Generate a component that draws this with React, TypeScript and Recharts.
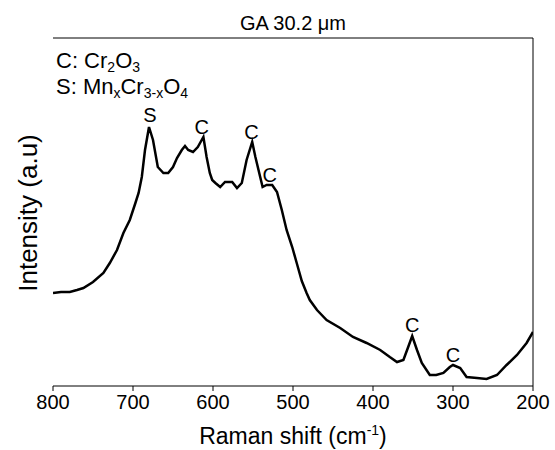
import { LineChart, Line, XAxis, YAxis, ReferenceLine, ReferenceDot } from "recharts";

// Raman shift (cm-1) and intensity (arbitrary units)
const shift = [
  800, 790, 779, 770, 762, 750, 737, 729, 720, 712, 704, 697, 693, 689, 685, 680, 675, 669, 662, 656,
  650, 645, 639, 635, 631, 625, 619, 612, 608, 604, 601, 597, 591, 585, 576, 570, 564, 558, 551, 547,
  541, 538, 533, 526, 520, 514, 508, 501, 495, 489, 483, 479, 470, 458, 441, 425, 408, 391, 379, 370,
  362, 356, 351, 345, 339, 329, 321, 312, 304, 300, 291, 283, 270, 258, 245, 233, 220, 208, 200,
];
const intensity = [
  93, 94, 94, 96, 98, 104, 113, 123, 136, 153, 166, 183, 193, 209, 236, 259, 246, 219, 213, 213,
  219, 228, 236, 240, 236, 234, 239, 249, 229, 213, 206, 203, 199, 204, 204, 198, 203, 226, 244, 229,
  209, 199, 201, 201, 194, 176, 156, 139, 122, 105, 93, 86, 76, 66, 58, 49, 43, 36, 29, 24,
  26, 39, 50, 36, 23, 11, 11, 13, 19, 21, 18, 9, 8, 7, 11, 21, 31, 43, 54,
];
const xTicks = [800, 700, 600, 500, 400, 300, 200];

// peak assignments: label, position (cm-1), label height (a.u.)
const peakLabels = ["S", "C", "C", "C", "C", "C"];
const peakShift = [679, 614, 552, 529, 351, 300];
const peakHeight = [271, 259, 254, 211, 61, 31];

const data = shift.map((s, i) => ({ shift: s, intensity: intensity[i] }));
const font = "'Liberation Sans', Arial, sans-serif";

export default function App() {
  return (
    <div style={{ position: "absolute", left: 0, top: 0 }}>
      <LineChart
        width={555}
        height={450}
        data={data}
        margin={{ top: 38, right: 22, left: 53, bottom: 34 }}
        style={{ fontFamily: font }}
      >
        <XAxis
          dataKey="shift"
          type="number"
          domain={[200, 800]}
          reversed
          ticks={xTicks}
          height={30}
          tickSize={5}
          tickMargin={4}
          stroke="#000"
          tick={{ fill: "#000", fontSize: 20 }}
          allowDataOverflow
        />
        <YAxis
          type="number"
          domain={[0, 348]}
          width={0}
          tick={false}
          tickLine={false}
          stroke="#000"
          allowDataOverflow
        />
        <ReferenceLine y={348} stroke="#000" />
        <ReferenceLine x={200} stroke="#000" />
        <Line
          dataKey="intensity"
          type="linear"
          stroke="#000"
          strokeWidth={2.5}
          dot={false}
          isAnimationActive={false}
        />
        {peakLabels.map((p, i) => (
          <ReferenceDot
            key={i}
            x={peakShift[i]}
            y={peakHeight[i]}
            r={0}
            fill="none"
            stroke="none"
            ifOverflow="visible"
            label={{ value: p, position: "center", fill: "#000", fontSize: 20 }}
          />
        ))}
        <text x={293} y={30} textAnchor="middle" fontSize={20} fill="#000">
          GA 30.2 μm
        </text>
        <text x={56} y={68} fontSize={22} fill="#000">
          C: Cr<tspan dy={4} fontSize={14}>2</tspan>
          <tspan dy={-4}>O</tspan>
          <tspan dy={4} fontSize={14}>3</tspan>
        </text>
        <text x={56} y={94} fontSize={22} fill="#000">
          S: Mn<tspan dy={4} fontSize={14}>x</tspan>
          <tspan dy={-4}>Cr</tspan>
          <tspan dy={4} fontSize={14}>3-x</tspan>
          <tspan dy={-4}>O</tspan>
          <tspan dy={4} fontSize={14}>4</tspan>
        </text>
        <text x={293} y={444} textAnchor="middle" fontSize={23} fill="#000">
          Raman shift (cm<tspan dy={-9} fontSize={14}>-1</tspan>
          <tspan dy={9}>)</tspan>
        </text>
        <text
          transform="translate(37,213) rotate(-90)"
          textAnchor="middle"
          fontSize={26}
          fill="#000"
        >
          Intensity (a.u)
        </text>
      </LineChart>
    </div>
  );
}
